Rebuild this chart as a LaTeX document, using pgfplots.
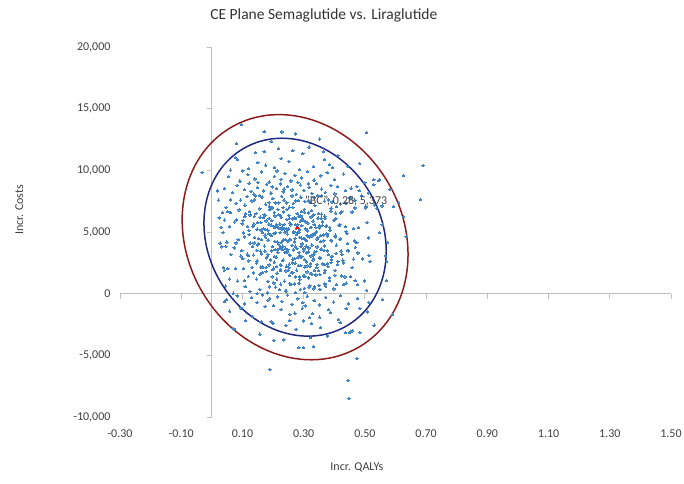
\documentclass[border=0pt]{standalone}
\usepackage{fontspec}
\setmainfont{Carlito}
\usepackage{pgfplots}
\pgfplotsset{compat=1.18}
\definecolor{ptblue}{HTML}{3F83C6}
\definecolor{ellred}{HTML}{8C1C1C}
\definecolor{ellblue}{HTML}{202880}
\definecolor{axgray}{HTML}{BFBFBF}
\definecolor{txtgray}{HTML}{404040}
\begin{document}
\begin{tikzpicture}
\path[use as bounding box] (0,0) rectangle (684pt,483pt);
\begin{axis}[
  at={(120pt,66pt)}, anchor=south west,
  scale only axis, width=551pt, height=370pt,
  xmin=-0.3, xmax=1.5, ymin=-10000, ymax=20000,
  axis lines=middle, axis line style={-, draw=axgray, line width=0.9pt},
  xtick={-0.3,-0.1,0.1,0.3,0.5,0.7,0.9,1.1,1.3,1.5},
  ytick={-10000,-5000,0,5000,10000,15000,20000},
  xticklabels={}, yticklabels={}, scaled ticks=false,
  tick style={draw=axgray, line width=0.9pt},
  tick align=outside, major tick length=5pt,
  clip=false,
]
\end{axis}
\begin{axis}[
  at={(120pt,66pt)}, anchor=south west,
  scale only axis, width=551pt, height=370pt,
  xmin=-0.3, xmax=1.5, ymin=-10000, ymax=20000,
  axis line style={draw=none}, tick style={draw=none},
  xtick={-0.3,-0.1,0.1,0.3,0.5,0.7,0.9,1.1,1.3,1.5},
  ytick={-10000,-5000,0,5000,10000,15000,20000},
  scaled x ticks=false, scaled y ticks=false,
  clip=false,
  /pgf/number format/assume math mode=true,
  xticklabel style={/pgf/number format/.cd, fixed, fixed zerofill, precision=2, /tikz/.cd, font=\fontsize{12}{14}\selectfont, text=txtgray, yshift=-9pt},
  yticklabel style={/pgf/number format/.cd, 1000 sep={,}, /tikz/.cd, font=\fontsize{12}{14}\selectfont, text=txtgray, xshift=-6pt},
  title={CE Plane Semaglutide vs. Liraglutide},
  title style={at={(axis description cs:0.37,1.068)}, anchor=center, font=\fontsize{15.5}{18}\selectfont, text=black!80},
  xlabel={Incr. QALYs},
  xlabel style={at={(axis description cs:0.43,-0.135)}, anchor=center, font=\fontsize{12}{14}\selectfont, text=txtgray},
  ylabel={Incr. Costs},
  ylabel style={at={(axis description cs:-0.183,0.56)}, anchor=center, font=\fontsize{12}{14}\selectfont, text=txtgray},
]
\addplot[only marks, mark=*, mark size=1.25pt, color=ptblue, mark options={line width=0pt}] coordinates {
(0.448,-8510) (0.445,-7050) (0.190,-6160) (0.474,-5270)
(0.284,-4380) (0.300,-4370) (0.332,-4300)
(0.203,-3810) (0.235,-3740) (0.323,-3570) (0.436,-3160) (0.449,-3160) (0.458,-3010) (0.484,-3160) (0.378,-3420) (0.157,-3290)
(0.110,-2190) (0.161,-2270) (0.194,-2280) (0.200,-2430) (0.242,-2590) (0.255,-2190) (0.300,-2200) (0.326,-2430) (0.355,-2760) (0.413,-2110) (0.419,-2350) (0.530,-2560) (0.072,-2860) (0.275,-2900)
(0.226,-1300) (0.255,-1700) (0.319,-1950) (0.329,-1620) (0.381,-1300) (0.387,-1540) (0.439,-1220) (0.484,-1220) (0.590,-1700) (0.058,-1420) (0.132,-1860) (0.174,-1050) (0.296,-1180) (0.352,-1910) (0.508,-1480) (0.271,-1580) (0.095,-1150)
(0.048,-490) (0.042,-650) (0.558,-490) (0.083,-180) (0.107,-820) (0.129,-330) (0.148,-710) (0.166,-90) (0.183,-560) (0.201,-950) (0.214,-260) (0.229,-640) (0.247,-120) (0.262,-870) (0.281,-420) (0.297,-730) (0.312,-200) (0.334,-570) (0.351,-910) (0.372,-300) (0.398,-680) (0.421,-150) (0.447,-830) (0.476,-380) (0.512,-700) (0.189,-380) (0.305,-980)
(0.045,618) (0.070,35) (0.109,571) (0.124,189) (0.148,24) (0.157,334) (0.182,66) (0.188,553) (0.203,871) (0.208,524) (0.221,351) (0.225,766) (0.240,213) (0.243,216) (0.255,834) (0.258,728) (0.270,798) (0.274,90) (0.285,854) (0.289,351) (0.302,433) (0.304,76) (0.317,539) (0.320,651) (0.333,389) (0.336,545) (0.350,673) (0.353,351) (0.369,786) (0.372,606) (0.399,392) (0.407,739) (0.430,750) (0.439,858) (0.476,726) (0.506,275)
(0.041,1894) (0.058,1179) (0.084,1025) (0.106,1055) (0.119,1407) (0.136,1692) (0.146,1183) (0.158,1593) (0.165,1713) (0.177,1791) (0.183,1001) (0.197,1371) (0.198,1965) (0.212,1174) (0.213,1657) (0.224,1882) (0.225,1932) (0.237,1017) (0.242,1851) (0.250,1913) (0.254,1486) (0.261,1717) (0.265,1693) (0.273,1352) (0.277,1906) (0.288,1155) (0.287,1390) (0.299,1449) (0.304,1417) (0.311,1768) (0.316,1274) (0.322,1640) (0.327,1591) (0.335,1871) (0.340,1518) (0.349,1882) (0.353,1549) (0.368,1715) (0.369,1897) (0.384,1298) (0.385,1061) (0.402,1478) (0.403,1894) (0.424,1440) (0.435,1355) (0.453,1377) (0.468,1051) (0.498,1045) (0.571,1069)
(0.038,2110) (0.052,2033) (0.078,2035) (0.101,2845) (0.104,2028) (0.121,2664) (0.132,2125) (0.146,2483) (0.148,2641) (0.160,2159) (0.167,2149) (0.177,2115) (0.178,2906) (0.187,2334) (0.192,2750) (0.202,2072) (0.204,2563) (0.211,2957) (0.212,2195) (0.224,2359) (0.226,2290) (0.232,2681) (0.234,2711) (0.245,2183) (0.244,2239) (0.252,2116) (0.253,2397) (0.263,2501) (0.265,2811) (0.271,2845) (0.272,2470) (0.283,2264) (0.282,2973) (0.291,2269) (0.290,2947) (0.302,2765) (0.303,2153) (0.309,2588) (0.311,2257) (0.322,2427) (0.321,2198) (0.330,2722) (0.332,2839) (0.344,2381) (0.343,2110) (0.353,2949) (0.354,2858) (0.363,2407) (0.368,2346) (0.378,2410) (0.379,2206) (0.391,2761) (0.390,2537) (0.411,2356) (0.412,2616) (0.428,2720) (0.430,2497) (0.458,2115) (0.463,2802) (0.492,2830) (0.517,2600) (0.571,2624)
(0.033,3804) (0.046,3821) (0.062,3184) (0.073,3711) (0.095,3054) (0.098,3482) (0.116,3201) (0.120,3107) (0.133,3839) (0.136,3125) (0.147,3501) (0.150,3955) (0.159,3446) (0.162,3226) (0.172,3849) (0.173,3459) (0.182,3039) (0.183,3183) (0.196,3469) (0.198,3824) (0.205,3018) (0.207,3579) (0.214,3566) (0.216,3339) (0.223,3644) (0.224,3821) (0.231,3574) (0.232,3846) (0.239,3332) (0.240,3687) (0.246,3387) (0.248,3561) (0.254,3172) (0.255,3102) (0.262,3909) (0.267,3541) (0.273,3846) (0.278,3665) (0.285,3329) (0.286,3064) (0.292,3843) (0.294,3016) (0.300,3454) (0.301,3623) (0.308,3846) (0.309,3312) (0.316,3393) (0.317,3706) (0.324,3062) (0.327,3942) (0.333,3141) (0.335,3372) (0.341,3427) (0.344,3785) (0.356,3600) (0.359,3606) (0.367,3513) (0.368,3885) (0.378,3471) (0.381,3188) (0.391,3025) (0.393,3029) (0.406,3269) (0.407,3928) (0.422,3452) (0.425,3190) (0.443,3517) (0.446,3463) (0.469,3763) (0.477,3298) (0.513,3095) (0.568,3063)
(0.037,4953) (0.027,4092) (0.049,4186) (0.079,4117) (0.086,4381) (0.103,4932) (0.106,4611) (0.122,4793) (0.125,4105) (0.138,4118) (0.140,4548) (0.152,4074) (0.153,4462) (0.163,4379) (0.165,4962) (0.174,4749) (0.176,4567) (0.184,4351) (0.185,4885) (0.193,4752) (0.195,4724) (0.202,4891) (0.206,4227) (0.208,4938) (0.215,4183) (0.218,4011) (0.223,4949) (0.226,4141) (0.231,4295) (0.234,4356) (0.239,4985) (0.241,4397) (0.247,4832) (0.249,4264) (0.254,4346) (0.257,4383) (0.266,4972) (0.270,4205) (0.272,4488) (0.277,4791) (0.280,4961) (0.285,4993) (0.287,4573) (0.293,4501) (0.295,4028) (0.300,4479) (0.303,4449) (0.309,4295) (0.311,4703) (0.317,4618) (0.318,4604) (0.327,4682) (0.328,4802) (0.335,4899) (0.336,4826) (0.344,4430) (0.346,4528) (0.355,4243) (0.356,4711) (0.365,4760) (0.366,4289) (0.376,4841) (0.378,4680) (0.389,4315) (0.391,4282) (0.403,4603) (0.404,4746) (0.419,4390) (0.421,4448) (0.441,4906) (0.443,4055) (0.466,4285) (0.474,4132) (0.511,4527) (0.547,4953) (0.635,4620) (0.574,4130)
(0.030,5381) (0.041,5964) (0.058,5428) (0.074,5810) (0.081,5975) (0.099,5665) (0.102,5933) (0.117,5446) (0.121,5128) (0.134,5475) (0.137,5648) (0.148,5233) (0.149,5786) (0.160,5783) (0.161,5165) (0.170,5271) (0.174,5201) (0.177,5909) (0.183,5145) (0.186,5648) (0.194,5566) (0.196,5923) (0.203,5460) (0.204,5348) (0.211,5610) (0.213,5454) (0.219,5326) (0.222,5648) (0.228,5213) (0.230,5393) (0.236,5607) (0.237,5260) (0.243,5249) (0.247,5141) (0.250,5273) (0.255,5724) (0.258,5587) (0.268,5006) (0.273,5606) (0.276,5315) (0.281,5588) (0.286,5174) (0.289,5881) (0.294,5520) (0.297,5920) (0.299,5962) (0.305,5829) (0.307,5254) (0.313,5091) (0.314,5715) (0.323,5364) (0.324,5367) (0.331,5892) (0.334,5590) (0.340,5360) (0.342,5011) (0.351,5330) (0.352,5530) (0.361,5548) (0.362,5820) (0.372,5466) (0.374,5521) (0.385,5384) (0.386,5146) (0.399,5951) (0.400,5941) (0.416,5511) (0.418,5609) (0.437,5433) (0.439,5057) (0.462,5270) (0.479,5365) (0.507,5759) (0.556,5591)
(0.024,6141) (0.035,6592) (0.052,6653) (0.061,6589) (0.089,6793) (0.108,6238) (0.110,6462) (0.123,6643) (0.125,6383) (0.139,6279) (0.145,6502) (0.157,6884) (0.158,6197) (0.168,6169) (0.171,6399) (0.173,6375) (0.187,6105) (0.189,6820) (0.196,6974) (0.197,6944) (0.204,6592) (0.206,6307) (0.216,6816) (0.219,6406) (0.225,6286) (0.227,6208) (0.233,6998) (0.234,6628) (0.244,6034) (0.245,6825) (0.252,6342) (0.253,6117) (0.263,6067) (0.265,6982) (0.271,6148) (0.273,6086) (0.279,6513) (0.284,6282) (0.291,6306) (0.293,6647) (0.296,6093) (0.302,6844) (0.303,6609) (0.315,6550) (0.316,6582) (0.324,6231) (0.325,6725) (0.332,6359) (0.333,6408) (0.347,6128) (0.349,6481) (0.357,6117) (0.358,6450) (0.369,6284) (0.370,6102) (0.389,6701) (0.390,6938) (0.404,6521) (0.405,6105) (0.421,6559) (0.425,6644) (0.458,6622) (0.467,6948) (0.503,6954) (0.538,6930) (0.626,6240)
(0.022,7587) (0.047,7006) (0.061,7606) (0.079,7315) (0.094,7588) (0.108,7174) (0.115,7881) (0.131,7520) (0.142,7920) (0.156,7962) (0.164,7829) (0.176,7254) (0.188,7091) (0.199,7715) (0.207,7364) (0.219,7367) (0.228,7892) (0.236,7590) (0.245,7360) (0.253,7011) (0.266,7330) (0.274,7530) (0.283,7548) (0.291,7820) (0.304,7466) (0.315,7521) (0.323,7384) (0.337,7146) (0.346,7951) (0.359,7941) (0.368,7511) (0.381,7609) (0.393,7433) (0.407,7057) (0.421,7270) (0.438,7365) (0.452,7759) (0.467,7591) (0.489,7953) (0.503,7092) (0.531,7186) (0.556,7117) (0.187,7381) (0.262,7932) (0.139,7611) (0.334,7793) (0.681,7620) (0.594,7050) (0.610,7380)
(0.410,8680) (0.436,8350) (0.474,8680) (0.481,8350) (0.529,8840) (0.018,8330) (0.041,8520) (0.068,8210) (0.083,8790) (0.106,8430) (0.122,8960) (0.128,8300) (0.137,8080) (0.149,8610) (0.168,8330) (0.179,8870) (0.193,8150) (0.197,8660) (0.211,8540) (0.224,8900) (0.233,8260) (0.236,8480) (0.247,8700) (0.262,8420) (0.276,8050) (0.289,8810) (0.301,8370) (0.316,8910) (0.318,8620) (0.327,8130) (0.342,8940) (0.358,8480) (0.371,8220) (0.389,8760) (0.402,8090) (0.455,8550) (0.512,8180) (0.582,8460)
(-0.032,9810) (0.626,9570) (0.548,9240) (0.529,9240) (0.545,9180) (0.400,9240) (0.377,9810) (0.500,9000) (0.055,9490) (0.092,9120) (0.118,9650) (0.141,9310) (0.163,9880) (0.187,9050) (0.204,9520) (0.226,9270) (0.239,9730) (0.258,9140) (0.271,9600) (0.293,9380) (0.312,9900) (0.334,9210) (0.356,9560) (0.150,9020) (0.281,9010) (0.430,9700) (0.101,9950) (0.213,9960)
(0.690,10380) (0.084,10870) (0.061,10010) (0.150,10620) (0.205,10240) (0.252,10710) (0.368,10870) (0.384,10460) (0.394,10220) (0.445,10300) (0.120,10130) (0.286,10050) (0.176,10420) (0.226,10960) (0.332,10300) (0.483,10570)
(0.142,11430) (0.171,11510) (0.265,11590) (0.297,11350) (0.077,11030) (0.365,11510) (0.412,11200) (0.218,11780) (0.318,11890)
(0.274,12960) (0.194,12330) (0.081,12160) (0.352,12540) (0.506,13050) (0.097,13700) (0.171,13135) (0.229,13120)
};
\draw[ellblue, line width=1.5pt, rotate around={30:(axis cs:0.272,4580)}] (axis cs:0.272,4580) ellipse [x radius=87pt, y radius=102.6pt];
\draw[ellred, line width=1.5pt, rotate around={30:(axis cs:0.272,4580)}] (axis cs:0.272,4580) ellipse [x radius=107.8pt, y radius=127.1pt];
\addplot[only marks, mark=*, mark size=1.4pt, color=red, mark options={line width=0pt},
  nodes near coords={"BC", 0.28, 5,373},
  every node near coord/.append style={anchor=west, xshift=4pt, yshift=26pt, text=txtgray, font=\fontsize{12}{14}\selectfont}]
  coordinates {(0.28,5373)};
\end{axis}
\end{tikzpicture}
\end{document}
